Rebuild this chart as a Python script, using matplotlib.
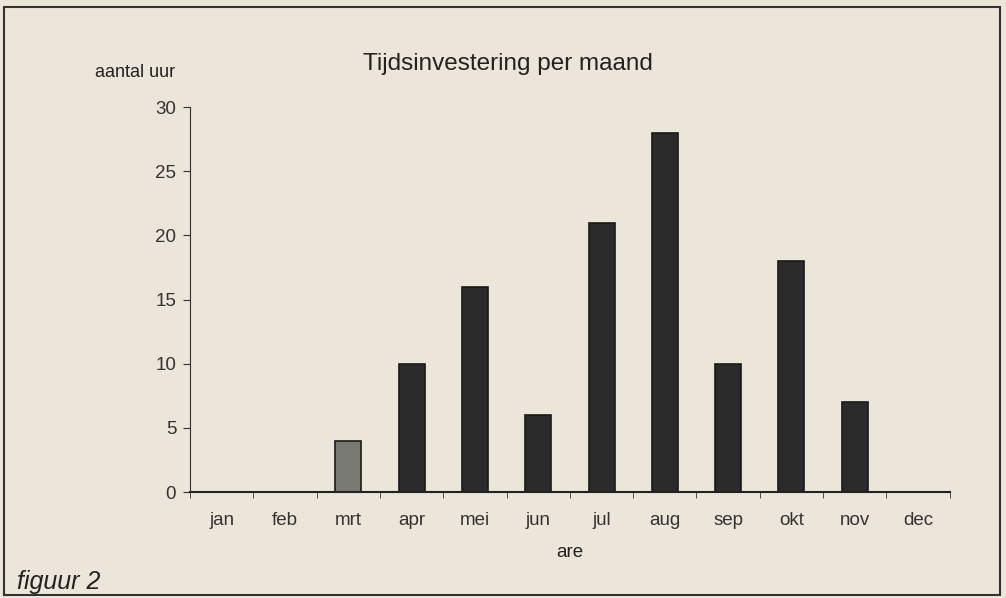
import matplotlib.pyplot as plt
from matplotlib.patches import Rectangle

# data
maanden = ['jan', 'feb', 'mrt', 'apr', 'mei', 'jun', 'jul', 'aug', 'sep', 'okt', 'nov', 'dec']
uren = [0, 0, 4, 10, 16, 6, 21, 28, 10, 18, 7, 0]
yticks = [0, 5, 10, 15, 20, 25, 30]

plt.rcParams['font.family'] = ['Liberation Sans', 'DejaVu Sans']
bg = '#ebe5da'

fig = plt.figure(figsize=(10.06, 5.98), dpi=100, facecolor=bg)
ax = fig.add_axes([0.189, 0.177, 0.755, 0.644])
ax.set_facecolor(bg)

# bars: mrt drawn lighter like the scan
kleuren = ['#2b2b2b'] * len(maanden)
kleuren[2] = '#7a7a74'
x = list(range(len(maanden)))
ax.bar(x, uren, width=0.41, color=kleuren, edgecolor='#1a1a1a', linewidth=1.2)

ax.set_xlim(-0.5, len(maanden) - 0.5)
ax.set_ylim(0, 30)
ax.set_yticks(yticks)
ax.set_xticks(x)
ax.set_xticklabels(maanden)
ax.set_xticks([i - 0.5 for i in range(len(maanden) + 1)], minor=True)
ax.tick_params(axis='x', which='major', length=0, pad=14, labelsize=13.5, colors='#333333')
ax.tick_params(axis='x', which='minor', length=4, direction='out', color='#333333')
ax.tick_params(axis='y', length=5, direction='out', labelsize=13.5, colors='#333333', pad=5)

for s in ['top', 'right']:
    ax.spines[s].set_visible(False)
ax.spines['left'].set_color('#333333')
ax.spines['bottom'].set_color('#222222')
ax.spines['bottom'].set_linewidth(1.5)

fig.text(0.505, 0.893, 'Tijdsinvestering per maand', ha='center', va='center', fontsize=17.5, color='#222222')
fig.text(0.134, 0.879, 'aantal uur', ha='center', va='center', fontsize=13, color='#222222')
fig.text(0.566, 0.076, 'are', ha='center', va='center', fontsize=13.5, color='#222222')
fig.text(0.017, 0.027, 'figuur 2', ha='left', va='center', fontsize=18, style='italic', color='#222222')

# frame around the whole figure
fig.patches.append(Rectangle((0.004, 0.005), 0.990, 0.983, transform=fig.transFigure,
                             fill=False, edgecolor='#333333', linewidth=1.5))

fig.savefig('out.png', dpi=100, facecolor=bg)
